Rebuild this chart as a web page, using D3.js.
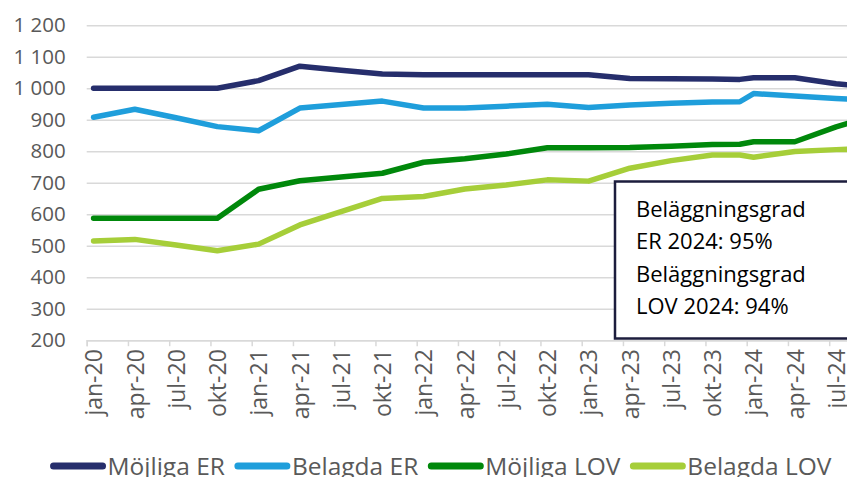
<!DOCTYPE html>
<html>
<head>
<meta charset="utf-8">
<script src="https://cdn.jsdelivr.net/npm/d3@7"></script>
<style>
  body { margin: 0; background: #fff; }
  svg { display: block; font-family: "Open Sans", sans-serif; }
</style>
</head>
<body>
<script>
const dates = ['2020-01','2020-04','2020-07','2020-10','2021-01','2021-04','2021-07','2021-10',
               '2022-01','2022-04','2022-07','2022-10','2023-01','2023-04','2023-07','2023-10',
               '2023-12','2024-01','2024-04','2024-07','2024-08'];
const mojligaER  = [1000,1000,1000,1000,1024,1070,1057,1045,1043,1043,1043,1043,1043,1031,1030,1029,1028,1033,1033,1014,1010];
const belagdaER  = [908,933,906,878,865,937,948,959,937,937,943,949,939,947,952,956,957,983,975,967,965];
const mojligaLOV = [587,587,587,587,679,706,718,730,765,776,791,811,811,812,816,821,822,830,830,877,890];
const belagdaLOV = [515,520,502,484,505,566,608,650,656,680,693,709,705,746,770,788,788,781,799,805,806];

const seriesNames = ['Möjliga ER', 'Belagda ER', 'Möjliga LOV', 'Belagda LOV'];
const seriesColors = ['#262e6c', '#1f9edb', '#00880b', '#a6ce39'];

const tickLabels = ['jan-20','apr-20','jul-20','okt-20','jan-21','apr-21','jul-21','okt-21','jan-22',
                    'apr-22','jul-22','okt-22','jan-23','apr-23','jul-23','okt-23','jan-24','apr-24','jul-24'];
const yTicks = [200,300,400,500,600,700,800,900,1000,1100,1200];

const noteLines = ['Beläggningsgrad', 'ER 2024: 95%', 'Beläggningsgrad', 'LOV 2024: 94%'];

const W = 847, H = 477;
const PLOT = {left: 86.7, right: 856.7, top: 25.2, bottom: 340.2};

// month index from jan-20
const monthIdx = s => (+s.slice(0, 4) - 2020) * 12 + (+s.slice(5, 7) - 1);

const x = d3.scaleLinear().domain([-0.5, 55.5]).range([PLOT.left, PLOT.right]);
const y = d3.scaleLinear().domain([200, 1200]).range([PLOT.bottom, PLOT.top]);

const svg = d3.select('body').append('svg')
    .attr('width', W)
    .attr('height', H);

const fmt = d3.formatLocale({decimal: ',', thousands: ' ', grouping: [3], currency: ['', '']}).format(',');

// gridlines
svg.append('g')
    .attr('transform', `translate(${PLOT.left},0)`)
    .call(d3.axisLeft(y).tickValues(yTicks).tickSize(-(PLOT.right - PLOT.left)).tickFormat(''))
    .call(g => g.select('.domain').remove())
    .selectAll('line')
    .attr('stroke', '#d9d9d9')
    .attr('stroke-width', 1.5);

// y labels
svg.append('g')
    .attr('transform', `translate(${PLOT.left},0)`)
    .call(d3.axisLeft(y).tickValues(yTicks).tickSize(0).tickPadding(21).tickFormat(fmt))
    .call(g => g.select('.domain').remove())
    .selectAll('text')
    .attr('fill', '#595959')
    .style('font-size', '20.5px')
    .style('font-family', '"Open Sans", sans-serif');

// x tick marks at quarter boundaries
const tickIdx = d3.range(0, 55, 3);
svg.append('g')
    .attr('transform', `translate(0,${PLOT.bottom})`)
    .call(d3.axisBottom(x).tickValues(tickIdx.map(i => i - 0.5)).tickSize(6).tickFormat(''))
    .call(g => g.select('.domain').attr('stroke', '#d9d9d9').attr('stroke-width', 1.5))
    .selectAll('line')
    .attr('stroke', '#d9d9d9')
    .attr('stroke-width', 1.5);

// x labels
svg.append('g')
    .attr('transform', `translate(0,${PLOT.bottom})`)
    .call(d3.axisBottom(x).tickValues(tickIdx).tickSize(0).tickFormat((d, i) => tickLabels[i]))
    .call(g => g.select('.domain').remove())
    .selectAll('text')
    .attr('fill', '#595959')
    .style('font-size', '23px')
    .style('font-family', '"Open Sans", sans-serif')
    .attr('text-anchor', 'end')
    .attr('transform', 'rotate(-90)')
    .attr('x', -9)
    .attr('y', 0)
    .attr('dy', '0.36em');

// note box
const note = svg.append('g');
note.append('rect')
    .attr('x', 615)
    .attr('y', 181.5)
    .attr('width', 260)
    .attr('height', 157)
    .attr('fill', '#fff')
    .attr('stroke', '#1c1d3d')
    .attr('stroke-width', 2.5);
note.selectAll('text')
    .data(noteLines)
    .enter()
    .append('text')
    .attr('x', 636)
    .attr('y', (d, i) => 217 + i * 32.4)
    .attr('fill', '#000')
    .style('font-size', '22px')
    .text(d => d);

// lines
const allSeries = [mojligaER, belagdaER, mojligaLOV, belagdaLOV];
const line = d3.line()
    .x((d, i) => x(monthIdx(dates[i])))
    .y(d => y(d));

svg.append('g')
    .selectAll('path')
    .data(allSeries)
    .enter()
    .append('path')
    .attr('d', d => line(d))
    .attr('fill', 'none')
    .attr('stroke', (d, i) => seriesColors[i])
    .attr('stroke-width', 5.5)
    .attr('stroke-linejoin', 'round')
    .attr('stroke-linecap', 'round');

// legend
const legend = svg.append('g').attr('transform', 'translate(0,466)');
const item = legend.selectAll('g')
    .data(seriesNames)
    .enter()
    .append('g');
item.append('line')
    .attr('x1', 3).attr('x2', 52)
    .attr('stroke', (d, i) => seriesColors[i])
    .attr('stroke-width', 7)
    .attr('stroke-linecap', 'round');
item.append('text')
    .attr('x', 57)
    .attr('dy', '0.36em')
    .attr('fill', '#595959')
    .style('font-size', '24.5px')
    .text(d => d);

let offset = 0;
const widths = [];
item.each(function() {
    widths.push(57 + this.querySelector('text').getComputedTextLength());
});
const gap = 10;
const total = d3.sum(widths) + gap * (widths.length - 1);
offset = 441 - total / 2;
item.attr('transform', (d, i) => {
    const t = `translate(${offset},0)`;
    offset += widths[i] + gap;
    return t;
});
</script>
</body>
</html>
